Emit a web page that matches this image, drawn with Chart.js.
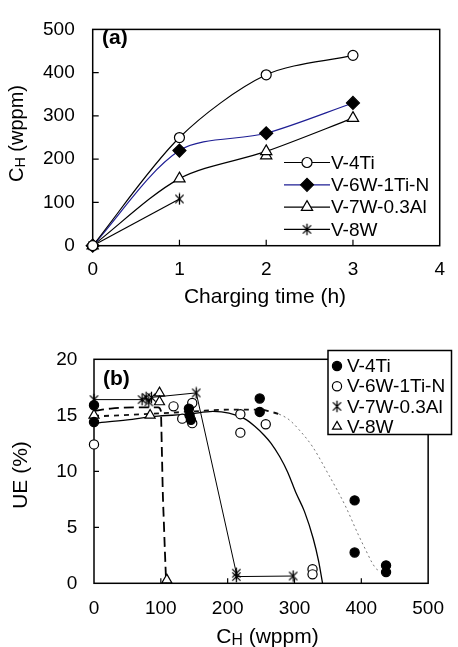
<!DOCTYPE html>
<html>
<head>
<meta charset="utf-8">
<script src="https://cdn.jsdelivr.net/npm/chart.js@4.4.1/dist/chart.umd.min.js"></script>
<style>
  html, body { margin: 0; padding: 0; background: #fff; }
  #wrap { position: relative; width: 458px; height: 647px; overflow: hidden; }
  canvas { position: absolute; left: 0; }
  #chartA { top: 0; }
  #chartB { top: 312px; }
</style>
</head>
<body>
<div id="wrap">
  <canvas id="chartA" width="458" height="312"></canvas>
  <canvas id="chartB" width="458" height="335"></canvas>
</div>
<script>
// ---------- (a) hydrogen content vs charging time ----------
const hours = [0, 1, 2, 3];
const hV4Ti = [0, 250, 395, 440];
const hV6W1TiN = [0, 220, 260, 330];
const hV7W03Al = [0, 155, 218, 295];
const hV7W03AlRepeat = [[2, 208]];
const hoursV8W = [0, 1];
const hV8W = [0, 108];
const timeTicks = [0, 1, 2, 3, 4];
const hydrogenTicksA = [0, 100, 200, 300, 400, 500];

// ---------- (b) uniform elongation vs hydrogen content ----------
const ueV4Ti = [[0, 15.9], [0, 14.4], [142, 15.6], [143, 15.0], [145, 14.6], [248, 16.5], [248, 15.3],
                [390, 7.4], [390, 2.75], [437, 1.6], [437, 1.0]];
const ueV6W1TiN = [[0, 12.4], [119, 15.8], [132, 14.7], [147, 16.1], [147, 14.3], [219, 15.1], [219, 13.45],
                   [257, 14.2], [327, 1.25], [327, 0.8]];
const ueV7W03Al = [[0, 16.4], [72, 16.4], [78, 16.6], [82, 16.2], [86, 16.6], [153, 17.0], [213, 0.9],
                   [213, 0.6], [298, 0.65]];
const ueV8W = [[0, 15.0], [84, 15.0], [98, 17.0], [98, 16.2], [109, 0.3]];
// trend curves
const trendV4Ti = [[0, 14.9], [75, 15.1], [150, 15.35], [200, 15.5], [250, 15.5], [265, 15.3], [277, 15.1],
                   [292, 14.6], [307, 13.7], [327, 12.2], [352, 9.6], [365, 8.2], [377, 6.8], [395, 4.4],
                   [408, 2.8], [416, 1.85], [423, 1.25], [428, 1.15]];
const trendV6W1TiN = [[0, 14.3], [50, 14.6], [91, 14.9], [142, 15.1], [178, 15.35], [202, 15.2], [225, 14.7],
                      [241, 14.0], [255, 13.2], [265, 12.5], [278, 11.3], [290, 9.9], [302, 8.1], [315, 6.4],
                      [328, 4.0], [336, 2.0], [342, 0]];
const trendV8W = [[0, 15.4], [25, 15.6], [60, 15.7], [96, 15.7], [100, 15.4], [101.5, 12], [103, 8],
                  [104.5, 5.5], [106, 3], [108, 0]];
const hydrogenTicksB = [0, 100, 200, 300, 400, 500];
const ueTicks = [0, 5, 10, 15, 20];

const FONT = "'Liberation Sans', Arial, Helvetica, sans-serif";
const pts = (xs, ys) => xs.map((x, i) => ({ x, y: ys[i] }));
const pairs = arr => arr.map(([x, y]) => ({ x, y }));

// six-armed asterisk marker (X plus vertical bar)
function makeAsterisk(size, lw) {
  const c = document.createElement('canvas');
  c.width = c.height = size;
  const g = c.getContext('2d');
  g.strokeStyle = '#000';
  g.lineWidth = lw;
  const m = size / 2, r = size / 2 - 0.8, d = r * 0.72;
  g.beginPath();
  g.moveTo(m, m - r); g.lineTo(m, m + r);
  g.moveTo(m - d, m - d); g.lineTo(m + d, m + d);
  g.moveTo(m + d, m - d); g.lineTo(m - d, m + d);
  g.stroke();
  return c;
}
const asterisk = makeAsterisk(13, 1.3);

// draws "C" with subscript "H" etc. Parts: [text, scale, baselineShift]
function drawRich(ctx, parts, size, cx, baseY, rotate) {
  ctx.save();
  let w = 0;
  const widths = parts.map(([t, s]) => {
    ctx.font = `${size * s}px ${FONT}`;
    const m = ctx.measureText(t).width;
    w += m;
    return m;
  });
  if (rotate) {
    ctx.translate(baseY, cx);
    ctx.rotate(-Math.PI / 2);
  } else {
    ctx.translate(cx, baseY);
  }
  let x = -w / 2;
  ctx.fillStyle = '#000';
  ctx.textBaseline = 'alphabetic';
  ctx.textAlign = 'left';
  parts.forEach(([t, s, dy], i) => {
    ctx.font = `${size * s}px ${FONT}`;
    ctx.fillText(t, x, dy * size);
    x += widths[i];
  });
  ctx.restore();
}

const framePlugin = {
  id: 'frame',
  beforeDatasetsDraw(chart, args, o) {
    const { ctx, chartArea: a } = chart;
    ctx.save();
    ctx.strokeStyle = '#000';
    ctx.lineWidth = 1.5;
    ctx.strokeRect(a.left, a.top, a.right - a.left, a.bottom - a.top);
    ctx.lineWidth = 1.2;
    const xs = chart.scales.x, ys = chart.scales.y;
    ctx.beginPath();
    xs.ticks.forEach(t => {
      const px = xs.getPixelForValue(t.value);
      if (px > a.left + 1 && px < a.right - 1) { ctx.moveTo(px, a.bottom); ctx.lineTo(px, a.bottom - o.tickLen); }
    });
    ys.ticks.forEach(t => {
      const py = ys.getPixelForValue(t.value);
      if (py > a.top + 1 && py < a.bottom - 1) { ctx.moveTo(a.left, py); ctx.lineTo(a.left + o.tickLen, py); }
    });
    ctx.stroke();
    ctx.restore();
  },
  afterDatasetsDraw(chart, args, o) {
    const ctx = chart.ctx;
    // axis titles
    drawRich(ctx, o.xTitle.parts, o.xTitle.size, o.xTitle.x, o.xTitle.y, false);
    drawRich(ctx, o.yTitle.parts, o.yTitle.size, o.yTitle.y, o.yTitle.x, true);
    // panel tag
    ctx.save();
    ctx.font = `bold ${o.tag.size}px ${FONT}`;
    ctx.fillStyle = '#000';
    ctx.textBaseline = 'middle';
    ctx.textAlign = 'left';
    ctx.fillText(o.tag.text, o.tag.x, o.tag.y);
    ctx.restore();
    // legend
    const L = o.legend;
    ctx.save();
    if (L.box) {
      ctx.fillStyle = '#fff';
      ctx.strokeStyle = '#000';
      ctx.lineWidth = 1.5;
      ctx.fillRect(L.box[0], L.box[1], L.box[2], L.box[3]);
      ctx.strokeRect(L.box[0], L.box[1], L.box[2], L.box[3]);
    }
    let row = 0;
    chart.data.datasets.forEach(ds => {
      if (!ds.inLegend) return;
      const y = L.y0 + row * L.dy;
      if (L.lineFrom !== undefined) {
        ctx.strokeStyle = ds.borderColor;
        ctx.lineWidth = 1.2;
        ctx.beginPath();
        ctx.moveTo(L.lineFrom, y);
        ctx.lineTo(L.lineTo, y);
        ctx.stroke();
      }
      ctx.fillStyle = ds.pointBackgroundColor;
      ctx.strokeStyle = ds.pointBorderColor;
      ctx.lineWidth = ds.pointBorderWidth;
      Chart.helpers.drawPoint(ctx, {
        pointStyle: ds.pointStyle, radius: L.markerRadius ? L.markerRadius(ds) : ds.pointRadius,
        rotation: 0, borderWidth: ds.pointBorderWidth
      }, L.markerX, y);
      ctx.fillStyle = '#000';
      ctx.font = `${L.size}px ${FONT}`;
      ctx.textBaseline = 'middle';
      ctx.textAlign = 'left';
      ctx.fillText(ds.label, L.textX, y + 1);
      row++;
    });
    ctx.restore();
  }
};

function scaleOpts(min, max, tickValues, padding, fitKey, fitVal) {
  return {
    type: 'linear',
    min, max,
    afterBuildTicks: s => { s.ticks = tickValues.map(v => ({ value: v })); },
    afterFit: s => { s[fitKey] = fitVal; },
    grid: { display: false, drawTicks: false },
    border: { display: false },
    ticks: { color: '#000', padding, font: { family: FONT, size: 19 } }
  };
}

const markerBase = { pointBorderColor: '#000', pointBorderWidth: 1.2, clip: false };

// ---------------- chart (a) ----------------
new Chart(document.getElementById('chartA'), {
  type: 'line',
  data: {
    datasets: [
      Object.assign({
        label: 'V-4Ti', data: pts(hours, hV4Ti), borderColor: '#000', borderWidth: 1.2, tension: 0.3,
        pointStyle: 'circle', pointRadius: 5, pointBackgroundColor: '#fff', inLegend: true
      }, markerBase),
      Object.assign({
        label: 'V-6W-1Ti-N', data: pts(hours, hV6W1TiN), borderColor: '#1e1e94', borderWidth: 1.2, tension: 0.3,
        pointStyle: 'rectRot', pointRadius: 6.5, pointBackgroundColor: '#000', inLegend: true
      }, markerBase),
      Object.assign({
        label: 'V-7W-0.3Al', data: pts(hours, hV7W03Al), borderColor: '#000', borderWidth: 1.2, tension: 0.3,
        pointStyle: 'triangle', pointRadius: 6.5, pointBackgroundColor: '#fff', inLegend: true
      }, markerBase),
      Object.assign({
        label: 'V-7W-0.3Al (repeat)', data: pairs(hV7W03AlRepeat), showLine: false, borderColor: '#000',
        pointStyle: 'triangle', pointRadius: 6.5, pointBackgroundColor: '#fff'
      }, markerBase),
      Object.assign({
        label: 'V-8W', data: pts(hoursV8W, hV8W), borderColor: '#000', borderWidth: 1.2, tension: 0,
        pointStyle: asterisk, pointRadius: 6, pointBackgroundColor: '#000', inLegend: true
      }, markerBase)
    ]
  },
  options: {
    responsive: false,
    animation: false,
    devicePixelRatio: 1,
    layout: { padding: { left: 0, top: 15.3, right: 17.3, bottom: 0 } },
    scales: {
      x: scaleOpts(0, 4, timeTicks, 13, 'height', 312 - 245.7),
      y: scaleOpts(0, 500, hydrogenTicksA, 18, 'width', 92.7)
    },
    plugins: {
      legend: { display: false },
      tooltip: { enabled: false },
      frame: {
        tickLen: 6,
        xTitle: { parts: [['Charging time (h)', 1, 0]], size: 21, x: 265, y: 303 },
        yTitle: { parts: [['C', 1, 0], ['H', 0.72, 0.12], [' (wppm)', 1, 0]], size: 20, x: 22.5, y: 133.5 },
        tag: { text: '(a)', size: 21, x: 102, y: 38 },
        legend: { y0: 162.5, dy: 22.3, lineFrom: 284, lineTo: 330, markerX: 307, textX: 331, size: 19 }
      }
    }
  },
  plugins: [framePlugin]
});

// ---------------- chart (b) ----------------
new Chart(document.getElementById('chartB'), {
  type: 'line',
  data: {
    datasets: [
      Object.assign({
        label: 'V-4Ti', data: pairs(ueV4Ti), showLine: false, borderColor: '#000',
        pointStyle: 'circle', pointRadius: 4.6, pointBackgroundColor: '#000', inLegend: true
      }, markerBase),
      Object.assign({
        label: 'V-6W-1Ti-N', data: pairs(ueV6W1TiN), showLine: false, borderColor: '#000',
        pointStyle: 'circle', pointRadius: 4.6, pointBackgroundColor: '#fff', inLegend: true
      }, markerBase),
      Object.assign({
        label: 'V-7W-0.3Al', data: pairs(ueV7W03Al), borderColor: '#000', borderWidth: 1, tension: 0,
        pointStyle: asterisk, pointRadius: 6, pointBackgroundColor: '#000', inLegend: true
      }, markerBase),
      Object.assign({
        label: 'V-8W', data: pairs(ueV8W), showLine: false, borderColor: '#000',
        pointStyle: 'triangle', pointRadius: 5.8, pointBackgroundColor: '#fff', inLegend: true
      }, markerBase),
      {
        label: 'V-4Ti trend', data: pairs(trendV4Ti), borderColor: '#111', borderWidth: 1.8,
        borderDash: [5, 5], pointRadius: 0, cubicInterpolationMode: 'monotone', clip: false,
        segment: {
          borderColor: c => c.p0.parsed.x >= 270 ? '#777' : undefined,
          borderWidth: c => c.p0.parsed.x >= 270 ? 1 : undefined,
          borderDash: c => c.p0.parsed.x >= 270 ? [2, 3] : undefined
        }
      },
      {
        label: 'V-6W-1Ti-N trend', data: pairs(trendV6W1TiN), borderColor: '#000', borderWidth: 1.3,
        pointRadius: 0, cubicInterpolationMode: 'monotone', clip: false
      },
      {
        label: 'V-8W trend', data: pairs(trendV8W), borderColor: '#000', borderWidth: 1.8,
        borderDash: [10, 5], pointRadius: 0, cubicInterpolationMode: 'monotone', clip: false
      }
    ]
  },
  options: {
    responsive: false,
    animation: false,
    devicePixelRatio: 1,
    layout: { padding: { left: 0, top: 47.3, right: 20, bottom: 0 } },
    scales: {
      x: scaleOpts(0, 500, hydrogenTicksB, 14, 'height', 335 - 271.3),
      y: scaleOpts(0, 20, ueTicks, 16.7, 'width', 94)
    },
    plugins: {
      legend: { display: false },
      tooltip: { enabled: false },
      frame: {
        tickLen: 5,
        xTitle: { parts: [['C', 1, 0], ['H', 0.75, 0.1], [' (wppm)', 1, 0]], size: 21, x: 267.5, y: 330.7 },
        yTitle: { parts: [['UE (%)', 1, 0]], size: 21, x: 26.5, y: 163 },
        tag: { text: '(b)', size: 21, x: 103, y: 67 },
        legend: { box: [328, 38.5, 123.5, 84], y0: 54, dy: 20.2, markerX: 337, textX: 347, size: 19,
                  markerRadius: ds => ds.pointStyle === 'triangle' ? 5.2 : ds.pointRadius }
      }
    }
  },
  plugins: [framePlugin]
});
</script>
</body>
</html>
